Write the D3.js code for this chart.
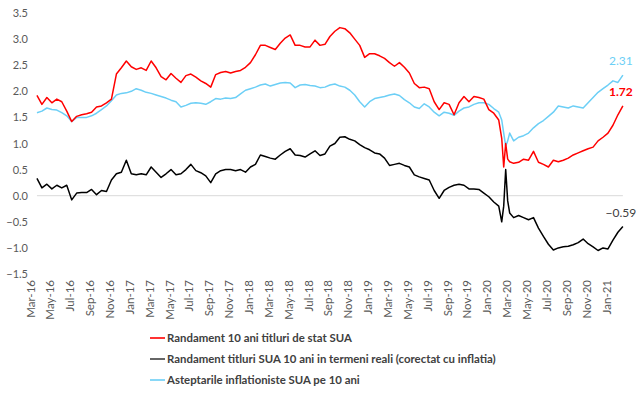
<!DOCTYPE html>
<html>
<head>
<meta charset="utf-8">
<script src="https://cdn.jsdelivr.net/npm/d3@7"></script>
<style>
  body { margin: 0; background: #fff; }
  svg { display: block; }
  text { font-family: Lato, "Liberation Sans", sans-serif; }
</style>
</head>
<body>
<svg width="636" height="396"></svg>
<script>
// tick labels, every 2 months starting Mar-16
const tickLabels = ["Mar-16","May-16","Jul-16","Sep-16","Nov-16","Jan-17","Mar-17","May-17","Jul-17","Sep-17",
  "Nov-17","Jan-18","Mar-18","May-18","Jul-18","Sep-18","Nov-18","Jan-19","Mar-19","May-19",
  "Jul-19","Sep-19","Nov-19","Jan-20","Mar-20","May-20","Jul-20","Sep-20","Nov-20","Jan-21"];
const yTicks = [3.5, 3.0, 2.5, 2.0, 1.5, 1.0, 0.5, 0.0, -0.5, -1.0, -1.5];

// months since Mar-16
const months = [0.7,1.2,1.7,2.2,2.7,3.2,3.7,4.2,4.7,5.2,5.7,6.2,6.7,7.2,7.7,8.2,8.7,9.2,9.7,10.2,
  10.7,11.2,11.7,12.2,12.7,13.2,13.7,14.2,14.7,15.2,15.7,16.2,16.7,17.2,17.7,18.2,18.7,19.2,19.7,20.2,
  20.7,21.2,21.7,22.2,22.7,23.2,23.7,24.2,24.7,25.2,25.7,26.2,26.7,27.2,27.7,28.2,28.7,29.2,29.7,30.2,
  30.7,31.2,31.7,32.2,32.7,33.2,33.7,34.2,34.7,35.2,35.7,36.2,36.7,37.2,37.7,38.2,38.7,39.2,39.7,40.2,
  40.7,41.2,41.7,42.2,42.7,43.2,43.7,44.2,44.7,45.2,45.7,46.2,46.7,47.2,47.5,47.7,47.9,48.1,48.3,48.7,
  49.2,49.7,50.2,50.7,51.2,51.7,52.2,52.7,53.2,53.7,54.2,54.7,55.2,55.7,56.2,56.7,57.2,57.7,58.2,58.7,
  59.2,59.7];

const nominal = [1.92,1.75,1.88,1.78,1.85,1.8,1.62,1.42,1.52,1.55,1.57,1.6,1.7,1.72,1.78,1.85,2.33,2.45,2.58,2.47,
  2.42,2.45,2.4,2.58,2.45,2.28,2.22,2.34,2.25,2.17,2.3,2.33,2.27,2.2,2.15,2.08,2.32,2.36,2.38,2.35,
  2.38,2.4,2.46,2.55,2.7,2.88,2.88,2.84,2.8,2.92,3.02,3.08,2.88,2.88,2.85,2.85,2.98,2.88,2.9,3.05,
  3.15,3.22,3.2,3.12,3.0,2.88,2.65,2.72,2.72,2.68,2.63,2.55,2.48,2.55,2.46,2.35,2.15,2.07,2.08,2.05,
  1.8,1.65,1.78,1.75,1.55,1.78,1.9,1.8,1.9,1.88,1.85,1.65,1.58,1.45,1.1,0.55,1.0,0.7,0.65,0.62,
  0.64,0.7,0.68,0.85,0.64,0.6,0.55,0.68,0.65,0.68,0.72,0.78,0.82,0.86,0.9,0.93,1.05,1.12,1.2,1.35,
  1.55,1.72];

const real = [0.33,0.15,0.22,0.13,0.2,0.15,0.2,-0.08,0.05,0.06,0.06,0.12,0.02,0.1,0.08,0.3,0.42,0.45,0.68,0.42,
  0.4,0.42,0.4,0.55,0.45,0.35,0.42,0.5,0.4,0.42,0.5,0.6,0.48,0.44,0.38,0.25,0.42,0.48,0.5,0.5,
  0.48,0.5,0.45,0.55,0.6,0.78,0.75,0.72,0.7,0.78,0.85,0.9,0.78,0.77,0.74,0.8,0.86,0.77,0.8,0.95,
  1.0,1.12,1.13,1.08,1.05,0.98,0.92,0.88,0.82,0.8,0.72,0.58,0.6,0.62,0.58,0.55,0.4,0.36,0.33,0.3,
  0.1,-0.05,0.1,0.16,0.2,0.22,0.2,0.13,0.13,0.12,0.05,-0.02,-0.12,-0.2,-0.5,-0.2,0.5,-0.1,-0.33,-0.42,
  -0.38,-0.42,-0.46,-0.42,-0.62,-0.78,-0.93,-1.04,-1.0,-0.98,-0.97,-0.94,-0.9,-0.83,-0.92,-0.98,-1.05,-1.0,-1.02,-0.85,
  -0.7,-0.59];

const breakeven = [1.59,1.62,1.68,1.65,1.64,1.59,1.53,1.42,1.5,1.5,1.5,1.53,1.58,1.65,1.72,1.82,1.93,1.96,1.97,2.0,
  2.05,2.02,1.98,1.96,1.93,1.9,1.87,1.83,1.8,1.7,1.73,1.77,1.78,1.77,1.75,1.8,1.86,1.85,1.87,1.86,
  1.88,1.95,2.02,2.05,2.08,2.12,2.14,2.1,2.13,2.16,2.17,2.16,2.07,2.12,2.13,2.11,2.1,2.07,2.08,2.12,
  2.14,2.1,2.08,2.02,1.93,1.8,1.7,1.8,1.86,1.88,1.9,1.93,1.95,1.92,1.84,1.78,1.7,1.67,1.76,1.7,
  1.6,1.53,1.6,1.58,1.54,1.62,1.68,1.7,1.75,1.78,1.78,1.75,1.67,1.6,1.45,1.2,0.95,1.05,1.2,1.05,
  1.12,1.15,1.2,1.3,1.38,1.44,1.52,1.6,1.72,1.7,1.68,1.72,1.7,1.68,1.78,1.88,1.98,2.05,2.12,2.2,
  2.17,2.31];

const seriesNames = ["Randament 10 ani titluri de stat SUA",
  "Randament titluri SUA 10 ani in termeni reali (corectat cu inflatia)",
  "Asteptarile inflationiste SUA pe 10 ani"];
const seriesColors = ["#ff0000", "#000000", "#6ccff6"];
const labelColors = ["#ff0000", "#404040", "#6ccff6"];

const svg = d3.select("svg");

const x = d3.scaleLinear().domain([0, 58]).range([30, 606]);
const y = d3.scaleLinear().domain([-1.5, 3.5]).range([274, 13]);

// zero line
svg.append("line")
  .attr("x1", x(months[0])).attr("x2", x(months[months.length - 1]))
  .attr("y1", y(0)).attr("y2", y(0))
  .attr("stroke", "#d9d9d9").attr("stroke-width", 1);

// y axis, labels only
const yAxis = svg.append("g")
  .attr("transform", "translate(28,0)")
  .call(d3.axisLeft(y).tickValues(yTicks).tickFormat(d3.format(".1f")).tickSize(0).tickPadding(0));
yAxis.select(".domain").remove();
yAxis.selectAll("text")
  .attr("fill", "#595959").style("font-size", "11px").style("font-family", "Lato, sans-serif");

// x axis, rotated labels
const xAxis = svg.append("g")
  .attr("transform", "translate(0,280)")
  .call(d3.axisBottom(x).tickValues(d3.range(0, 59, 2))
    .tickFormat((d, i) => tickLabels[i]).tickSize(0).tickPadding(0));
xAxis.select(".domain").remove();
xAxis.selectAll("text")
  .attr("transform", "rotate(-90)")
  .attr("text-anchor", "end")
  .attr("x", 0).attr("y", 0).attr("dy", "0.35em")
  .attr("fill", "#595959").style("font-size", "11.5px");

const line = d3.line().x((d, i) => x(months[i])).y(d => y(d));

const allSeries = [breakeven, nominal, real];
const order = [2, 0, 1]; // draw blue, red, black
allSeries.forEach((s, j) => {
  svg.append("path")
    .datum(s)
    .attr("fill", "none")
    .attr("stroke", seriesColors[order[j]])
    .attr("stroke-width", 1.5)
    .attr("stroke-linejoin", "round")
    .attr("d", line);
});

// end labels
const ends = [nominal, real, breakeven];
ends.forEach((s, j) => {
  const last = s[s.length - 1];
  svg.append("text")
    .attr("x", x(months[months.length - 1]) - 2)
    .attr("y", y(last) - 14)
    .attr("dy", "0.35em")
    .attr("text-anchor", "middle")
    .attr("fill", labelColors[j])
    .style("font-size", "12px")
    .style("font-weight", j === 0 ? "bold" : "normal")
    .text(d3.format(".2f")(last));
});

// legend
const legend = svg.append("g").attr("transform", "translate(150,338)");
seriesNames.forEach((name, j) => {
  const g = legend.append("g").attr("transform", "translate(0," + (j * 21) + ")");
  g.append("line").attr("x1", 0).attr("x2", 15).attr("y1", 0).attr("y2", 0)
    .attr("stroke", j === 1 ? "#404040" : seriesColors[j]).attr("stroke-width", 1.6);
  g.append("text").attr("x", 17).attr("y", 0).attr("dy", "0.35em")
    .attr("fill", "#404040").style("font-size", "11.4px").style("font-weight", "bold")
    .text(name);
});
</script>
</body>
</html>
